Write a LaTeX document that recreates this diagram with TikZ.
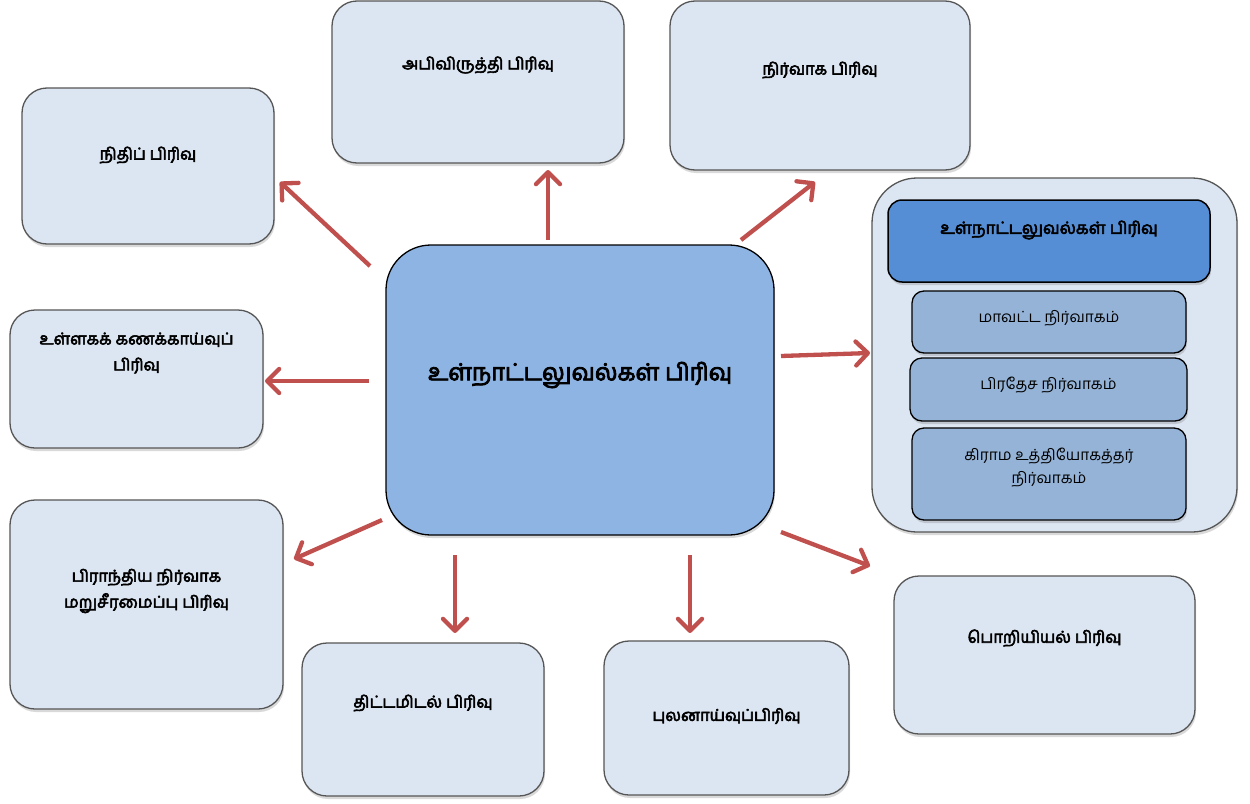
\documentclass[tikz,border=0pt]{standalone}
\usepackage{fontspec}
\newfontfamily\ta[Script=Tamil]{Hind Madurai}
\newfontfamily\tab[Script=Tamil,FakeBold=3.5]{Hind Madurai}
\usetikzlibrary{arrows.meta,shadows}
\definecolor{boxfill}{HTML}{DCE6F2}
\definecolor{boxline}{HTML}{555555}
\definecolor{cenfill}{HTML}{8EB4E3}
\definecolor{headfill}{HTML}{558ED5}
\definecolor{subfill}{HTML}{95B3D7}
\definecolor{arrred}{HTML}{C0504D}
\tikzset{
  shad/.style={drop shadow={shadow xshift=1pt,shadow yshift=-3pt,opacity=0.25,fill=black!60}},
  divbox/.style={draw=boxline,line width=1.3pt,fill=boxfill,rounded corners=25pt,shad,inner sep=0pt},
  cenbox/.style={draw=black,line width=1.3pt,fill=cenfill,rounded corners=45pt,shad,inner sep=0pt},
  grpbox/.style={draw=boxline,line width=1.3pt,fill=boxfill,rounded corners=45pt,shad,inner sep=0pt},
  headbox/.style={draw=black,line width=1.5pt,fill=headfill,rounded corners=14pt,shad,inner sep=0pt},
  subbox/.style={draw=black,line width=1.3pt,fill=subfill,rounded corners=12pt,shad,inner sep=0pt},
  lbl/.style={font=\tab\fontsize{16.3}{26}\selectfont,align=center,inner sep=0pt},
  hlbl/.style={font=\tab\fontsize{16.8}{26}\selectfont,align=center,inner sep=0pt},
  biglbl/.style={font=\tab\fontsize{23.5}{26}\selectfont,align=center,inner sep=0pt},
  sublbl/.style={font=\ta\fontsize{15.4}{23}\selectfont,align=center,inner sep=0pt},
  conn/.style={draw=arrred,line width=4.3pt,-{Straight Barb[length=12pt,width=24pt,line cap=round,line join=round]}},
}
\begin{document}
\begin{tikzpicture}[x=1pt,y=-1pt]
\useasboundingbox (0,0) rectangle (1250,803);
% boxes
\node[divbox,minimum width=252pt,minimum height=156pt] (nithi) at (148,166) {};
\node[divbox,minimum width=292pt,minimum height=162pt] (abi) at (478,82) {};
\node[divbox,minimum width=300pt,minimum height=169pt] (nir) at (820,85.5) {};
\node[divbox,minimum width=253pt,minimum height=138pt] (ull) at (136.5,379) {};
\node[divbox,minimum width=273pt,minimum height=209pt] (pir) at (146.5,604.5) {};
\node[divbox,minimum width=242pt,minimum height=153pt] (thi) at (423,719.5) {};
\node[divbox,minimum width=245pt,minimum height=154pt] (pul) at (726.5,718) {};
\node[divbox,minimum width=301pt,minimum height=158pt] (por) at (1044.5,655) {};
\node[cenbox,minimum width=388pt,minimum height=290pt] (cen) at (580,390) {};
\node[grpbox,minimum width=365pt,minimum height=354pt] (grp) at (1054.5,355) {};
\node[headbox,minimum width=322pt,minimum height=82pt] (head) at (1049,241) {};
\node[subbox,minimum width=274pt,minimum height=62pt] (sub1) at (1049,322) {};
\node[subbox,minimum width=277pt,minimum height=63pt] (sub2) at (1048.5,389.5) {};
\node[subbox,minimum width=274pt,minimum height=92pt] (sub3) at (1049,474) {};
% labels
\node[lbl] (nithi-t) at (148,155) {நிதிப் பிரிவு};
\node[lbl] (abi-t) at (478,65) {அபிவிருத்தி பிரிவு};
\node[lbl] (nir-t) at (820,70) {நிர்வாக பிரிவு};
\node[lbl] (ull-t) at (136.5,353) {உள்ளகக் கணக்காய்வுப்\\பிரிவு};
\node[lbl] (pir-t) at (146.5,591) {பிராந்திய நிர்வாக\\மறுசீரமைப்பு பிரிவு};
\node[lbl] (thi-t) at (423,703) {திட்டமிடல் பிரிவு};
\node[lbl] (pul-t) at (726.5,716) {புலனாய்வுப்பிரிவு};
\node[lbl] (por-t) at (1044.5,638) {பொறியியல் பிரிவு};
\node[biglbl] (cen-t) at (580,375) {உள்நாட்டலுவல்கள் பிரிவு};
\node[hlbl] (head-t) at (1049,230) {உள்நாட்டலுவல்கள் பிரிவு};
\node[sublbl] (sub1-t) at (1049,318) {மாவட்ட நிர்வாகம்};
\node[sublbl] (sub2-t) at (1048.5,385) {பிரதேச நிர்வாகம்};
\node[sublbl] (sub3-t) at (1049,468) {கிராம உத்தியோகத்தர்\\நிர்வாகம்};
% connector end points
\coordinate (s1) at (370,266); \coordinate (e1) at (280,182);
\coordinate (s2) at (548,240); \coordinate (e2) at (548,170);
\coordinate (s3) at (741,240); \coordinate (e3) at (815,182);
\coordinate (s4) at (781,356); \coordinate (e4) at (870,353);
\coordinate (s5) at (369,381); \coordinate (e5) at (265,381);
\coordinate (s6) at (382,520); \coordinate (e6) at (294,559);
\coordinate (s7) at (455,555); \coordinate (e7) at (455,633);
\coordinate (s8) at (690,555); \coordinate (e8) at (690,633);
\coordinate (s9) at (781,532); \coordinate (e9) at (870,566);
\foreach \i in {1,...,9} { \draw[conn] (s\i) -- (e\i); }
\end{tikzpicture}
\end{document}
